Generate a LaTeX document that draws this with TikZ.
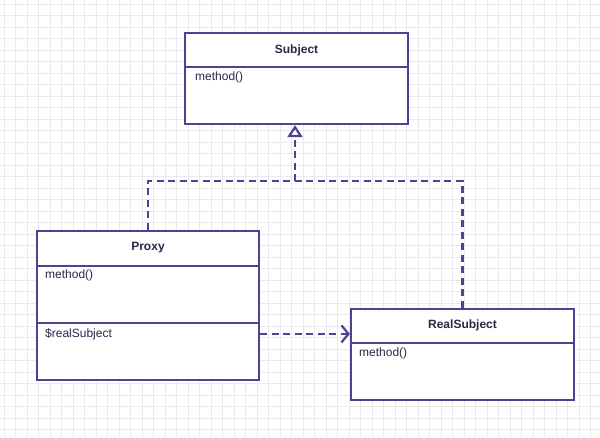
\documentclass[tikz,border=0pt]{standalone}
\usepackage{fontspec}
\setmainfont{Liberation Sans}
\usetikzlibrary{arrows.meta,positioning}
\definecolor{umlline}{HTML}{4B4494}
\definecolor{umltext}{HTML}{2A2748}
\definecolor{gridline}{HTML}{EAEAEE}
\tikzset{
  classbox/.style={draw=umlline, line width=2.2pt, fill=white, inner sep=0pt},
  classtitle/.style={font=\fontsize{12}{14}\selectfont\bfseries, text=umltext, inner sep=0pt},
  member/.style={anchor=north west, text=umltext, inner sep=0pt},
  divider/.style={umlline, line width=2.2pt},
  realize/.style={umlline, line width=2.2pt, dash pattern=on 7pt off 4.5pt},
}
\begin{document}
\begin{tikzpicture}[x=1pt, y=-1pt, font=\fontsize{12}{14}\selectfont]
  \useasboundingbox (0,0) rectangle (600,437);
  % Background
  \fill[white] (0,0) rectangle (600,437);
  \foreach \g in {4,15.5,...,600} \draw[gridline, line width=0.9pt] (\g,0) -- (\g,437);
  \foreach \g in {4,15.5,...,437} \draw[gridline, line width=0.9pt] (0,\g) -- (600,\g);
  % Classes
  \node[classbox, minimum width=223pt, minimum height=91pt] (subject) at (296.5,78.5) {};
  \node[classbox, minimum width=222pt, minimum height=149pt] (proxy) at (148,305.5) {};
  \node[classbox, minimum width=223pt, minimum height=91pt] (realsubject) at (462.5,354.5) {};
  \draw[divider] (subject.west |- 0,67) -- (subject.east |- 0,67);
  \draw[divider] (proxy.west |- 0,266) -- (proxy.east |- 0,266);
  \draw[divider] (proxy.west |- 0,323) -- (proxy.east |- 0,323);
  \draw[divider] (realsubject.west |- 0,343) -- (realsubject.east |- 0,343);
  % Labels
  \node[classtitle] (subject-title) at (296.5,50) {Subject};
  \node[member] (subject-method) at (195,72) {method()};
  \node[classtitle] (proxy-title) at (148,248) {Proxy};
  \node[member] (proxy-method) at (45,270) {method()};
  \node[member] (proxy-attr) at (45,328) {\$realSubject};
  \node[classtitle] (realsubject-title) at (462.5,325) {RealSubject};
  \node[member] (realsubject-method) at (359,348) {method()};
  % Relations
  \coordinate (fork) at (295,181);
  \draw[realize] (proxy.north) |- (fork) -| (realsubject.north);
  \draw[realize, -{Triangle[open, width=15pt, length=12pt]}] (fork) -- (fork |- subject.south);
  \draw[realize, -{Straight Barb[length=7pt, width=17pt]}] (proxy-attr -| proxy.east) -- (proxy-attr -| realsubject.west);
\end{tikzpicture}
\end{document}
